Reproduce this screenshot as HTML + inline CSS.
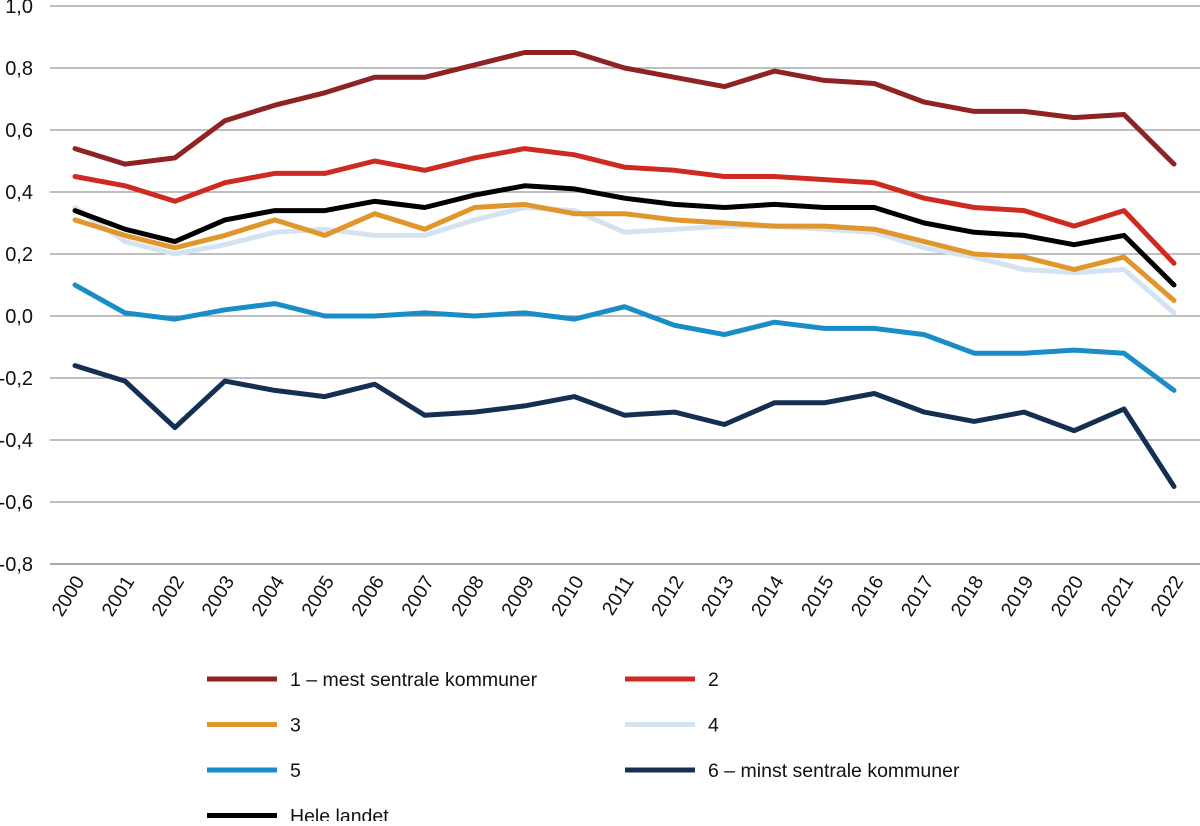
<!DOCTYPE html>
<html><head><meta charset="utf-8"><style>
body{margin:0;background:#fff;font-family:"Liberation Sans",sans-serif}
svg text{font-family:"Liberation Sans",sans-serif;fill:#111}
</style></head><body>
<svg width="1200" height="821">
<g id="grid"></g><g id="series"></g><g id="legend"></g>
</svg>
<script>
const years=["2000","2001","2002","2003","2004","2005","2006","2007","2008","2009","2010","2011","2012","2013","2014","2015","2016","2017","2018","2019","2020","2021","2022"];
const yTicks=[1.0,0.8,0.6,0.4,0.2,0.0,-0.2,-0.4,-0.6,-0.8];
const s1=[.54,.49,.51,.63,.68,.72,.77,.77,.81,.85,.85,.80,.77,.74,.79,.76,.75,.69,.66,.66,.64,.65,.49];
const s2=[.45,.42,.37,.43,.46,.46,.50,.47,.51,.54,.52,.48,.47,.45,.45,.44,.43,.38,.35,.34,.29,.34,.17];
const s3=[.31,.26,.22,.26,.31,.26,.33,.28,.35,.36,.33,.33,.31,.30,.29,.29,.28,.24,.20,.19,.15,.19,.05];
const s4=[.35,.24,.20,.23,.27,.28,.26,.26,.31,.35,.34,.27,.28,.29,.29,.28,.27,.22,.19,.15,.14,.15,.01];
const s5=[.10,.01,-.01,.02,.04,.00,.00,.01,.00,.01,-.01,.03,-.03,-.06,-.02,-.04,-.04,-.06,-.12,-.12,-.11,-.12,-.24];
const s6=[-.16,-.21,-.36,-.21,-.24,-.26,-.22,-.32,-.31,-.29,-.26,-.32,-.31,-.35,-.28,-.28,-.25,-.31,-.34,-.31,-.37,-.30,-.55];
const hele=[.34,.28,.24,.31,.34,.34,.37,.35,.39,.42,.41,.38,.36,.35,.36,.35,.35,.30,.27,.26,.23,.26,.10];
const names=["1 – mest sentrale kommuner","2","3","4","5","6 – minst sentrale kommuner","Hele landet"];
const colors=["#8f2323","#cf2a22","#e0962a","#d3e3f2","#1a8cc8","#152f52","#000000"];
const allSeries=[s1,s2,s3,s4,s5,s6,hele];
const NS="http://www.w3.org/2000/svg";
const X=i=>75+i*(1174-75)/(years.length-1);
const Y=v=>6+(1.0-v)*(564-6)/1.8;
function mk(t,a,p){const e=document.createElementNS(NS,t);for(const k in a)e.setAttribute(k,a[k]);p.appendChild(e);return e;}
const g=document.getElementById('grid');
yTicks.forEach(v=>{
 const l=mk('line',{x1:50,x2:1200,y1:Y(v),y2:Y(v),stroke:v===-0.8?'#777':'#999','stroke-width':1.2},g);
 
 
 const t=mk('text',{x:33,y:Y(v)+7,'text-anchor':'end','font-size':20},g);
 t.textContent=v.toFixed(1).replace('.',',');
 
 
});
years.forEach((yr,i)=>{
 const t=mk('text',{x:X(i)+10,y:581,'text-anchor':'end','font-size':19.5,transform:`rotate(-58 ${X(i)+10} 581)`},g);
 t.textContent=yr;
 
 
});
const sg=document.getElementById('series');
[3,0,1,2,4,5,6].forEach(k=>{
 const d=allSeries[k].map((v,i)=>(i?'L':'M')+X(i).toFixed(1)+' '+Y(v).toFixed(1)).join(' ');
 const p=mk('path',{d:d,fill:'none',stroke:colors[k],'stroke-width':5,'stroke-linejoin':'round','stroke-linecap':'round'},sg);
 
 
});
const lg=document.getElementById('legend');
names.forEach((n,k)=>{
 const col=k%2, row=Math.floor(k/2);
 const x=col?625:207, y=679+row*45.5;
 const e=mk('g',{},lg);
 
 
 mk('line',{x1:x,x2:x+70,y1:y,y2:y,stroke:colors[k],'stroke-width':5},e);
 const t=mk('text',{x:x+83,y:y+7,'font-size':19.5},e);
 t.textContent=n;
});
</script>
</body></html>
